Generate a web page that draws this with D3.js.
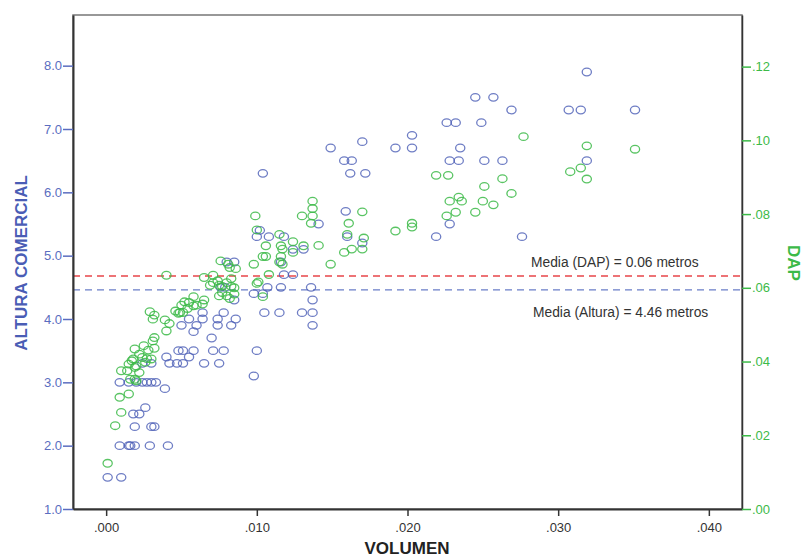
<!DOCTYPE html>
<html>
<head>
<meta charset="utf-8">
<script src="https://cdn.jsdelivr.net/npm/d3@7"></script>
<style>
  body { margin: 0; background: #fff; }
  text { font-family: "Liberation Sans", Arial, sans-serif; }
</style>
</head>
<body>
<div id="chart"></div>
<script>
// Altura comercial vs volumen
let alturaPts = [
  [.0319, 7.9], [.0307, 7.3], [.0315, 7.3], [.0351, 7.3], [.0319, 6.5],
  [.0245, 7.5], [.0257, 7.5], [.0269, 7.3], [.0226, 7.1], [.0232, 7.1],
  [.0249, 7.1], [.0203, 6.9], [.0149, 6.7], [.0170, 6.8], [.0192, 6.7],
  [.0203, 6.7], [.0235, 6.7], [.0158, 6.5], [.0163, 6.5], [.0228, 6.5],
  [.0234, 6.5], [.0251, 6.5], [.0263, 6.5], [.0104, 6.3], [.0162, 6.3],
  [.0172, 6.3], [.0159, 5.7], [.0141, 5.5], [.0228, 5.5], [.0219, 5.3],
  [.0276, 5.3], [.0102, 5.4], [.0100, 5.3], [.0108, 5.3], [.0118, 5.3],
  [.0124, 5.1], [.0131, 5.1], [.0160, 5.3], [.0170, 5.2], [.0116, 4.9],
  [.0118, 4.7], [.0124, 4.7], [.0098, 4.4], [.0104, 4.4], [.0107, 4.5],
  [.0116, 4.5], [.0136, 4.5], [.0137, 4.3], [.0105, 4.1], [.0115, 4.1],
  [.0130, 4.1], [.0137, 4.1], [.0137, 3.9], [.0100, 3.5], [.0098, 3.1],
  [.0001, 1.5], [.0010, 1.5], [.0009, 2.0], [.0015, 2.0], [.0016, 2.0],
  [.0019, 2.0], [.0029, 2.0], [.0041, 2.0], [.0019, 2.3], [.0030, 2.3],
  [.0032, 2.3], [.0018, 2.5], [.0022, 2.5], [.0026, 2.6], [.0039, 2.9],
  [.0009, 3.0], [.0015, 3.0], [.0020, 3.0], [.0024, 3.0], [.0027, 3.0],
  [.0030, 3.0], [.0033, 3.0], [.0024, 3.3], [.0030, 3.3], [.0042, 3.3],
  [.0047, 3.3], [.0051, 3.3], [.0065, 3.3], [.0075, 3.3], [.0040, 3.4],
  [.0055, 3.4], [.0048, 3.5], [.0051, 3.5], [.0058, 3.5], [.0071, 3.5],
  [.0078, 3.5], [.0070, 3.7], [.0058, 3.8], [.0050, 3.9], [.0060, 3.9],
  [.0074, 3.9], [.0083, 3.9], [.0055, 4.0], [.0064, 4.0], [.0074, 4.0],
  [.0086, 4.0], [.0064, 4.1], [.0078, 4.1], [.0085, 4.3], [.0076, 4.5],
  [.0079, 4.5], [.0080, 4.9], [.0085, 4.9]
];

// DAP vs volumen
let dapPts = [
  [.0277, .101], [.0319, .0985], [.0351, .0976], [.0308, .0915], [.0315, .0925],
  [.0319, .0895], [.0219, .0905], [.0227, .0905], [.0263, .0896], [.0251, .0875],
  [.0269, .0856], [.0234, .0846], [.0228, .0835], [.0236, .0835], [.0250, .0835],
  [.0257, .0825], [.0232, .0805], [.0226, .0795], [.0245, .0805], [.0203, .0775],
  [.0203, .0765], [.0192, .0754],
  [.0137, .0835], [.0137, .0815], [.0130, .0795], [.0137, .0795], [.0136, .0775],
  [.0141, .0715], [.0170, .0806], [.0161, .0775], [.0160, .0745], [.0171, .0735],
  [.0158, .0696], [.0163, .0705], [.0170, .0705], [.0149, .0664], [.0099, .0795],
  [.0100, .0757], [.0115, .0745], [.0106, .0714], [.0116, .0714], [.0124, .0725],
  [.0131, .0714], [.0117, .0705], [.0124, .0696], [.0104, .0685], [.0106, .0685],
  [.0116, .0685], [.0115, .0670], [.0117, .0664], [.0098, .0664], [.0108, .0636],
  [.0101, .0616], [.0100, .0612], [.0104, .0576],
  [.0076, .0673], [.0081, .0664], [.0086, .0652], [.0082, .0655], [.0065, .0628],
  [.0071, .0634], [.0040, .0634], [.0071, .0614], [.0074, .0619], [.0075, .0607],
  [.0069, .0607], [.0077, .0604], [.0080, .0614], [.0083, .0625], [.0083, .0604],
  [.0085, .0600], [.0075, .0578], [.0080, .0578], [.0082, .0571], [.0077, .0587],
  [.0085, .0583], [.0058, .0576], [.0065, .0567], [.0064, .0556], [.0060, .0553],
  [.0055, .0560], [.0052, .0562], [.0050, .0553], [.0049, .0533], [.0046, .0537],
  [.0048, .0531], [.0051, .0533], [.0054, .0544], [.0058, .0551], [.0029, .0535],
  [.0032, .0526], [.0031, .0515], [.0039, .0513], [.0042, .0503], [.0040, .0483],
  [.0032, .0465], [.0031, .0456], [.0025, .0443], [.0028, .0431], [.0032, .0436],
  [.0019, .0434], [.0022, .0420], [.0018, .0407], [.0024, .0411], [.0027, .0408],
  [.0030, .0407], [.0026, .0398], [.0020, .0388], [.0017, .0402], [.0015, .0393],
  [.0010, .0375], [.0014, .0375], [.0019, .0384], [.0022, .0370], [.0016, .0352],
  [.0019, .0352], [.0020, .0348], [.0015, .0312], [.0009, .0303], [.0010, .0262],
  [.0006, .0226], [.0001, .0124]
];

let xTicks = [0, .01, .02, .03, .04];
let leftTicks = [1, 2, 3, 4, 5, 6, 7, 8];
let rightTicks = [0, .02, .04, .06, .08, .10, .12];
let mediaAltura = 4.46;
let mediaDap = 0.0632;

let blue = "#4a5db5", green = "#3cba48";

let width = 806, height = 558;
let margin = {top: 15, right: 64, bottom: 49, left: 73};
let w = width - margin.left - margin.right,
    h = height - margin.top - margin.bottom;

let svg = d3.select("#chart").append("svg")
  .attr("width", width)
  .attr("height", height);
let g = svg.append("g")
  .attr("transform", "translate(" + margin.left + "," + margin.top + ")");

let x = d3.scaleLinear().domain([-0.0022, 0.0422]).range([0, w]);
let yL = d3.scaleLinear().domain([1, 8.8]).range([h, 0]);
let yR = d3.scaleLinear().domain([0, 0.134]).range([h, 0]);

// frame
g.append("rect")
  .attr("width", w).attr("height", h)
  .attr("fill", "none")
  .attr("stroke", "#777").attr("stroke-width", 1.5);

// mean lines
g.append("line")
  .attr("x1", 0).attr("x2", w)
  .attr("y1", yR(mediaDap)).attr("y2", yR(mediaDap))
  .attr("stroke", "#e8454a").attr("stroke-width", 1.3)
  .attr("stroke-dasharray", "7,5");
g.append("line")
  .attr("x1", 0).attr("x2", w)
  .attr("y1", yL(mediaAltura)).attr("y2", yL(mediaAltura))
  .attr("stroke", "#6a7ec8").attr("stroke-width", 1.3)
  .attr("stroke-dasharray", "7,5");

g.append("text")
  .attr("x", 458).attr("y", yR(mediaDap) - 9)
  .attr("font-size", 13.8).attr("fill", "#333")
  .text("Media (DAP) = 0.06 metros");
g.append("text")
  .attr("x", 460).attr("y", yL(mediaAltura) + 27)
  .attr("font-size", 13.8).attr("fill", "#333")
  .text("Media (Altura) = 4.46 metros");

// points
g.append("g").selectAll("ellipse")
  .data(alturaPts)
  .enter().append("ellipse")
    .attr("cx", d => x(d[0]))
    .attr("cy", d => yL(d[1]))
    .attr("rx", 4.6).attr("ry", 3.8)
    .attr("fill", "none")
    .attr("stroke", blue).attr("stroke-opacity", 0.8)
    .attr("stroke-width", 1.3);

g.append("g").selectAll("ellipse")
  .data(dapPts)
  .enter().append("ellipse")
    .attr("cx", d => x(d[0]))
    .attr("cy", d => yR(d[1]))
    .attr("rx", 4.6).attr("ry", 3.8)
    .attr("fill", "none")
    .attr("stroke", green).attr("stroke-opacity", 0.85)
    .attr("stroke-width", 1.3);

// axes
let xAxis = g.append("g")
  .attr("transform", "translate(0," + h + ")")
  .call(d3.axisBottom(x).tickValues(xTicks).tickSize(7).tickSizeOuter(0)
    .tickFormat(d => d3.format(".3f")(d).replace(/^0/, "")));
xAxis.select(".domain").attr("stroke", "#333").attr("stroke-width", 2);
xAxis.selectAll(".tick line").attr("stroke", "#333").attr("stroke-width", 1.5);
xAxis.selectAll("text").attr("font-size", 13).attr("fill", "#333")
  .attr("font-family", "Liberation Sans, Arial, sans-serif").attr("dy", "1.0em");

let leftAxis = g.append("g")
  .call(d3.axisLeft(yL).tickValues(leftTicks).tickSize(10).tickPadding(1).tickSizeOuter(0)
    .tickFormat(d3.format(".1f")));
leftAxis.select(".domain").attr("stroke", "#333").attr("stroke-width", 2);
leftAxis.selectAll(".tick line").attr("stroke", "#5a6dc0").attr("stroke-width", 1.5);
leftAxis.selectAll("text").attr("font-size", 13).attr("fill", "#5a6dc0")
  .attr("font-family", "Liberation Sans, Arial, sans-serif");

let rightAxis = g.append("g")
  .attr("transform", "translate(" + w + ",0)")
  .call(d3.axisRight(yR).tickValues(rightTicks).tickSize(9).tickPadding(1).tickSizeOuter(0)
    .tickFormat(d => d3.format(".2f")(d).replace(/^0/, "")));
rightAxis.select(".domain").attr("stroke", "#333").attr("stroke-width", 1.5);
rightAxis.selectAll(".tick line").attr("stroke", green).attr("stroke-width", 1.5);
rightAxis.selectAll("text").attr("font-size", 13).attr("fill", green)
  .attr("font-family", "Liberation Sans, Arial, sans-serif");

// axis titles
svg.append("text")
  .attr("transform", "translate(27,263) rotate(-90)")
  .attr("text-anchor", "middle")
  .attr("font-size", 17).attr("font-weight", "bold").attr("fill", blue)
  .text("ALTURA COMERCIAL");

svg.append("text")
  .attr("transform", "translate(788,263) rotate(90)")
  .attr("text-anchor", "middle")
  .attr("font-size", 17).attr("font-weight", "bold").attr("fill", green)
  .text("DAP");

svg.append("text")
  .attr("x", 407).attr("y", 554)
  .attr("text-anchor", "middle")
  .attr("font-size", 17).attr("font-weight", "bold").attr("fill", "#222")
  .text("VOLUMEN");
</script>
</body>
</html>
